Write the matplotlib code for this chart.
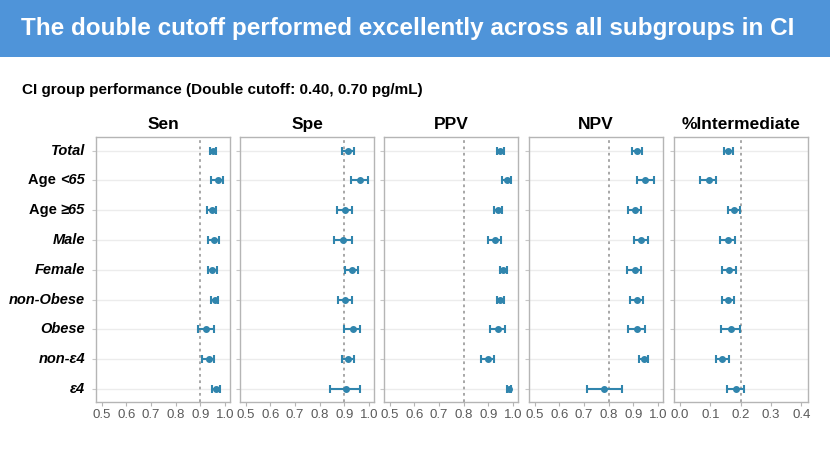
import matplotlib
matplotlib.use("Agg")
import matplotlib.pyplot as plt
from matplotlib.patches import Rectangle

plt.rcParams['font.family'] = ['Liberation Sans', 'DejaVu Sans']

groups = ["Total", "Age <65", "Age \u226565", "Male", "Female", "non-Obese", "Obese", "non-\u03b54", "\u03b54"]
metrics = ["Sen", "Spe", "PPV", "NPV", "%Intermediate"]

sen_est = [0.951, 0.972, 0.947, 0.955, 0.948, 0.960, 0.923, 0.933, 0.964]
sen_lo  = [0.939, 0.945, 0.928, 0.932, 0.932, 0.945, 0.891, 0.908, 0.948]
sen_hi  = [0.964, 0.992, 0.963, 0.975, 0.967, 0.973, 0.957, 0.957, 0.980]

spe_est = [0.916, 0.965, 0.901, 0.896, 0.929, 0.904, 0.935, 0.916, 0.905]
spe_lo  = [0.892, 0.928, 0.872, 0.859, 0.903, 0.876, 0.900, 0.892, 0.840]
spe_hi  = [0.939, 0.996, 0.929, 0.932, 0.957, 0.932, 0.965, 0.939, 0.965]

ppv_est = [0.948, 0.975, 0.937, 0.925, 0.961, 0.949, 0.938, 0.897, 0.983]
ppv_lo  = [0.936, 0.956, 0.923, 0.900, 0.948, 0.936, 0.907, 0.871, 0.975]
ppv_hi  = [0.962, 0.992, 0.954, 0.953, 0.975, 0.965, 0.968, 0.922, 0.992]

npv_est = [0.915, 0.948, 0.905, 0.929, 0.905, 0.915, 0.915, 0.943, 0.780]
npv_lo  = [0.896, 0.915, 0.879, 0.901, 0.875, 0.888, 0.880, 0.921, 0.712]
npv_hi  = [0.933, 0.983, 0.929, 0.959, 0.929, 0.940, 0.947, 0.960, 0.852]

int_est = [0.159, 0.095, 0.178, 0.158, 0.162, 0.158, 0.167, 0.140, 0.184]
int_lo  = [0.144, 0.065, 0.159, 0.133, 0.138, 0.138, 0.134, 0.120, 0.156]
int_hi  = [0.175, 0.120, 0.198, 0.182, 0.185, 0.177, 0.198, 0.162, 0.211]

ref_lines = [0.9, 0.9, 0.8, 0.8, 0.2]
xticks_main = [0.5, 0.6, 0.7, 0.8, 0.9, 1.0]
xticks_int = [0.0, 0.1, 0.2, 0.3, 0.4]

title = "The double cutoff performed excellently across all subgroups in CI"
subtitle = "CI group performance (Double cutoff: 0.40, 0.70 pg/mL)"

series = [(sen_est, sen_lo, sen_hi), (spe_est, spe_lo, spe_hi), (ppv_est, ppv_lo, ppv_hi),
          (npv_est, npv_lo, npv_hi), (int_est, int_lo, int_hi)]

W, H = 830, 468
fig = plt.figure(figsize=(W / 100, H / 100), dpi=100)
fig.patch.set_facecolor("white")

# header band
fig.add_artist(Rectangle((0, 1 - 57 / H), 1, 57 / H, transform=fig.transFigure,
                         facecolor="#4f94d9", edgecolor="none", zorder=0))
fig.text(408 / W, 1 - 28 / H, title, color="white", fontsize=17.5, fontweight="bold",
         ha="center", va="center")
fig.text(22 / W, 1 - 90 / H, subtitle, color="black", fontsize=11, fontweight="bold",
         ha="left", va="center")

pt_color = "#3085ad"
lefts = [96, 240, 384, 529, 674]
pw = 134
top_px, bot_px = 137, 402
ypos = list(range(len(groups)))

axes = []
for i, (m, (est, lo, hi)) in enumerate(zip(metrics, series)):
    ax = fig.add_axes([lefts[i] / W, (H - bot_px) / H, pw / W, (bot_px - top_px) / H])
    axes.append(ax)
    for y in ypos:
        ax.axhline(y, color="#ececec", lw=1.0, zorder=0)
    ax.axvline(ref_lines[i], color="#a0a0a0", lw=1.3, ls=(0, (1.5, 2)), zorder=1)
    xerr = [[e - l for e, l in zip(est, lo)], [h - e for e, h in zip(est, hi)]]
    ax.errorbar(est, ypos, xerr=xerr, fmt="o", color=pt_color, ecolor=pt_color,
                elinewidth=1.5, capsize=3, capthick=1.5, markersize=4, zorder=3)
    if i < 4:
        ax.set_xlim(0.477, 1.02)
        ax.set_xticks(xticks_main)
        ax.set_xticklabels([f"{t:.1f}" for t in xticks_main])
    else:
        ax.set_xlim(-0.0196, 0.422)
        ax.set_xticks(xticks_int)
        ax.set_xticklabels([f"{t:.1f}" for t in xticks_int])
    ax.set_ylim(8.44, -0.46)
    ax.set_yticks(ypos)
    ax.set_yticklabels([])
    ax.set_title(m, fontsize=12.5, fontweight="bold", pad=6)
    for s in ax.spines.values():
        s.set_color("#b5b5b5")
        s.set_linewidth(1.0)
    ax.tick_params(axis="x", colors="#b5b5b5", labelcolor="#5a5a5a", labelsize=9.5,
                   length=3, width=0.8, pad=2)
    ax.tick_params(axis="y", colors="#c8c8c8", length=3, width=0.8)

# row labels (manual, to allow mixed upright/italic)
ax0 = axes[0]
fig.canvas.draw()
renderer = fig.canvas.get_renderer()
for y, g in zip(ypos, groups):
    if g.startswith("Age"):
        t2 = ax0.annotate(g[4:], xy=(0, y), xycoords=("axes fraction", "data"),
                          xytext=(-8, 0), textcoords="offset points",
                          ha="right", va="center", fontsize=10.5, fontweight="bold",
                          fontstyle="italic")
        bb = t2.get_window_extent(renderer)
        ax0.annotate("Age ", xy=(0, y), xycoords=("axes fraction", "data"),
                     xytext=(-8 - bb.width * 72 / fig.dpi, 0), textcoords="offset points",
                     ha="right", va="center", fontsize=10.5, fontweight="bold")
    else:
        ax0.annotate(g, xy=(0, y), xycoords=("axes fraction", "data"),
                     xytext=(-8, 0), textcoords="offset points",
                     ha="right", va="center", fontsize=10.5, fontweight="bold",
                     fontstyle="italic")

fig.savefig("out.png", dpi=100, facecolor="white")
